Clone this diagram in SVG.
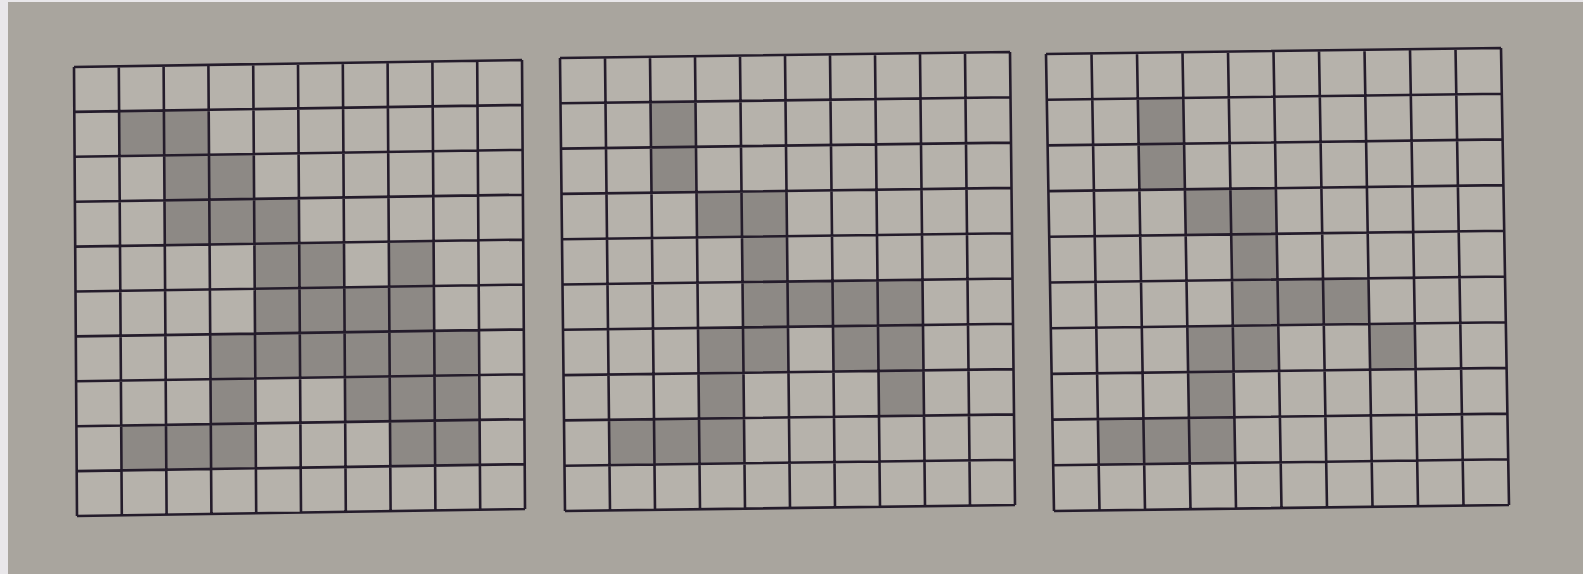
<svg xmlns="http://www.w3.org/2000/svg" width="1583" height="574" viewBox="0 0 1583 574">
<defs>
<style>
.paper{fill:#a9a59e}
.edge{fill:#e9e7ea}
.bg{fill:#b6b2ab}
.sh{fill:#8d8985}
.ln{fill:none;stroke:#241c2b;stroke-width:2.6;vector-effect:non-scaling-stroke}
</style>
</defs>
<rect class="paper" x="0" y="0" width="1583" height="574"/>
<rect class="edge" x="0" y="0" width="8" height="574"/>
<rect class="edge" x="0" y="0" width="1583" height="2"/>

<g id="grid1" transform="matrix(44.8,-0.7,0.3,44.9,74,67)">
<rect class="bg" x="0" y="0" width="10" height="10"/>
<g class="sh">
<rect x="1" y="1" width="2" height="1"/>
<rect x="2" y="2" width="2" height="1"/>
<rect x="2" y="3" width="3" height="1"/>
<rect x="4" y="4" width="2" height="1"/>
<rect x="7" y="4" width="1" height="1"/>
<rect x="4" y="5" width="4" height="1"/>
<rect x="3" y="6" width="6" height="1"/>
<rect x="3" y="7" width="1" height="1"/>
<rect x="6" y="7" width="3" height="1"/>
<rect x="1" y="8" width="3" height="1"/>
<rect x="7" y="8" width="2" height="1"/>
</g>
<path class="ln" vector-effect="non-scaling-stroke" d="M0 0H10M0 1H10M0 2H10M0 3H10M0 4H10M0 5H10M0 6H10M0 7H10M0 8H10M0 9H10M0 10H10M0 0V10M1 0V10M2 0V10M3 0V10M4 0V10M5 0V10M6 0V10M7 0V10M8 0V10M9 0V10M10 0V10"/>
</g>

<g id="grid2" transform="matrix(45.0,-0.6,0.5,45.3,560,58)">
<rect class="bg" x="0" y="0" width="10" height="10"/>
<g class="sh">
<rect x="2" y="1" width="1" height="2"/>
<rect x="3" y="3" width="2" height="1"/>
<rect x="4" y="4" width="1" height="1"/>
<rect x="4" y="5" width="4" height="1"/>
<rect x="3" y="6" width="2" height="1"/>
<rect x="6" y="6" width="2" height="1"/>
<rect x="3" y="7" width="1" height="1"/>
<rect x="7" y="7" width="1" height="1"/>
<rect x="1" y="8" width="3" height="1"/>
</g>
<path class="ln" vector-effect="non-scaling-stroke" d="M0 0H10M0 1H10M0 2H10M0 3H10M0 4H10M0 5H10M0 6H10M0 7H10M0 8H10M0 9H10M0 10H10M0 0V10M1 0V10M2 0V10M3 0V10M4 0V10M5 0V10M6 0V10M7 0V10M8 0V10M9 0V10M10 0V10"/>
</g>

<g id="grid3" transform="matrix(45.5,-0.6,0.8,45.7,1046,54)">
<rect class="bg" x="0" y="0" width="10" height="10"/>
<g class="sh">
<rect x="2" y="1" width="1" height="2"/>
<rect x="3" y="3" width="2" height="1"/>
<rect x="4" y="4" width="1" height="1"/>
<rect x="4" y="5" width="3" height="1"/>
<rect x="3" y="6" width="2" height="1"/>
<rect x="7" y="6" width="1" height="1"/>
<rect x="3" y="7" width="1" height="1"/>
<rect x="1" y="8" width="3" height="1"/>
</g>
<path class="ln" vector-effect="non-scaling-stroke" d="M0 0H10M0 1H10M0 2H10M0 3H10M0 4H10M0 5H10M0 6H10M0 7H10M0 8H10M0 9H10M0 10H10M0 0V10M1 0V10M2 0V10M3 0V10M4 0V10M5 0V10M6 0V10M7 0V10M8 0V10M9 0V10M10 0V10"/>
</g>
</svg>
